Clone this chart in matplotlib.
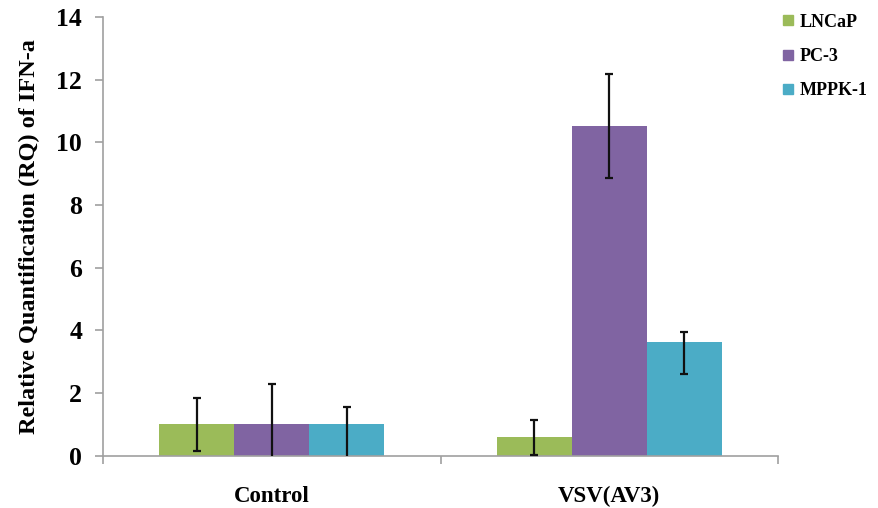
import matplotlib
matplotlib.use('Agg')
import matplotlib.pyplot as plt
import numpy as np

groups = ['Control', 'VSV(AV3)']
cells = ['LNCaP', 'PC-3', 'MPPK-1']
colors = ['#9BBB59', '#8064A2', '#4BACC6']

# mean RQ per cell line, one value per group
rq = {
    'LNCaP': [1.0, 0.58],
    'PC-3': [1.0, 10.52],
    'MPPK-1': [1.0, 3.62],
}
err_low = {
    'LNCaP': [0.84, 0.55],
    'PC-3': [1.27, 1.65],
    'MPPK-1': [1.2, 1.01],
}
err_high = {
    'LNCaP': [0.83, 0.55],
    'PC-3': [1.27, 1.65],
    'MPPK-1': [0.55, 0.32],
}

plt.rcParams['font.family'] = ['Liberation Serif', 'DejaVu Serif']
plt.rcParams['font.weight'] = 'bold'

fig = plt.figure(figsize=(8.79, 5.08), dpi=100)
ax = fig.add_axes([0.1172, 0.1033, 0.768, 0.863])

x = np.arange(len(groups))
w = 0.2222
for i, c in enumerate(cells):
    pos = x + (i - 1) * w
    ax.bar(pos, rq[c], w, color=colors[i], label=c, zorder=2)
    ax.errorbar(pos, rq[c], yerr=[err_low[c], err_high[c]], fmt='none',
                ecolor='#111111', elinewidth=1.6, capsize=3.2, capthick=1.6, zorder=3)

ax.set_xlim(-0.5, 1.5)
ax.set_ylim(0, 14)
ax.set_yticks(range(0, 15, 2))
ax.set_xticks(x)
ax.set_xticklabels(groups, fontsize=16.5, fontweight='bold')
ax.set_xticks([-0.5, 0.5, 1.5], minor=True)
ax.tick_params(axis='x', which='major', length=0, pad=22)
ax.tick_params(axis='x', which='minor', length=6, color='#a0a0a0', width=1.2)
ax.tick_params(axis='y', length=6, color='#a0a0a0', width=1.2, labelsize=18.5, pad=9)
for lab in ax.get_yticklabels():
    lab.set_fontweight('bold')

for side in ['top', 'right']:
    ax.spines[side].set_visible(False)
for side in ['left', 'bottom']:
    ax.spines[side].set_color('#a0a0a0')
    ax.spines[side].set_linewidth(1.2)

ax.set_ylabel('Relative Quantification (RQ) of IFN-a', fontsize=17.5, fontweight='bold', labelpad=12)

handles = [plt.Line2D([], [], marker='s', linestyle='none', markersize=7,
                      color=col) for col in colors]
fig.legend(handles, cells, loc='upper left', bbox_to_anchor=(0.872, 1.005),
           frameon=False, prop={'size': 13, 'weight': 'bold'},
           handlelength=0.6, handletextpad=0.35, labelspacing=0.95)

fig.savefig('out.png', dpi=100)
